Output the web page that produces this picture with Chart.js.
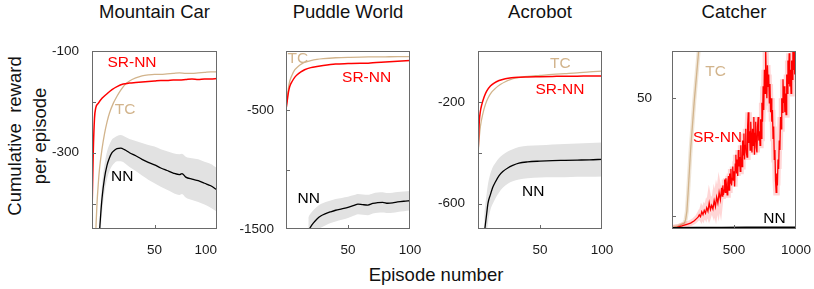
<!DOCTYPE html>
<html>
<head>
<meta charset="utf-8">
<script src="https://cdn.jsdelivr.net/npm/chart.js@4.4.1/dist/chart.umd.min.js"></script>
<style>
body{margin:0;background:#fff;width:814px;height:289px;overflow:hidden;position:relative;font-family:"Liberation Sans",Arial,Helvetica,sans-serif;color:#111}
canvas{position:absolute;top:40px}
.ttl{position:absolute;top:2px;font-size:18.5px;line-height:20px;text-align:center;white-space:nowrap}
.ylab{position:absolute;left:-73px;top:111px;width:200px;height:50px;font-size:18.5px;line-height:25px;text-align:center;white-space:nowrap;transform:rotate(-90deg)}
.xlab{position:absolute;left:336px;top:265px;width:200px;font-size:18.5px;line-height:20px;text-align:center}
</style>
</head>
<body>
<div class="ttl" style="left:92px;width:125px">Mountain Car</div>
<div class="ttl" style="left:286px;width:124px">Puddle World</div>
<div class="ttl" style="left:478px;width:124px">Acrobot</div>
<div class="ttl" style="left:672px;width:124px">Catcher</div>
<div class="ylab">Cumulative&nbsp; reward<br>per episode</div>
<div class="xlab">Episode number</div>

<canvas id="mc" width="205" height="219" style="left:32px"></canvas>
<canvas id="pw" width="204" height="219" style="left:226px"></canvas>
<canvas id="ac" width="204" height="219" style="left:418px"></canvas>
<canvas id="ca" width="202" height="219" style="left:612px"></canvas>

<script>
// Mountain Car
const mcSrX = [0,1,2,3,5,8,12,16,20,25,30,35,40,45,50,55,60,65,70,75,80,85,90,95,100];
const mcSrY = [-420,-300,-232,-212,-203,-193,-184,-176,-170,-165,-163,-162,-161,-160,-159,-158,-158,-157,-157,-156,-155,-156,-155,-155,-154];
const mcTcX = [2,3,4,5,6,8,10,12,14,17,20,23,26,30,35,40,45,50,55,60,65,70,75,80,85,90,95,100];
const mcTcY = [-520,-455,-400,-362,-332,-293,-263,-240,-222,-203,-189,-177,-167,-159,-153,-149,-147,-146,-146,-145,-144,-143,-144,-144,-143,-142,-141,-141];
const mcNnX = [6,7,8,10,12,14,16,18,20,23,26,30,35,40,45,50,55,60,65,70,72,75,80,85,90,95,100];
const mcNnY = [-455,-420,-390,-350,-325,-310,-300,-295,-292,-291,-294,-300,-306,-313,-319,-324,-330,-335,-340,-343,-341,-348,-352,-355,-360,-365,-373];
const mcNnHi = [-425,-392,-362,-323,-298,-284,-274,-270,-267,-265,-268,-273,-277,-281,-285,-288,-293,-297,-301,-303,-302,-308,-311,-313,-318,-322,-330];
const mcNnLo = [-485,-450,-420,-378,-352,-336,-326,-320,-317,-317,-320,-328,-336,-345,-353,-360,-367,-373,-379,-383,-381,-388,-393,-397,-402,-408,-416];
const mcXTicks = [0,50,100], mcXLabels = ['','50','100'];
const mcYTicks = [-400,-300,-200,-100], mcYLabels = ['','-300','','-100'];

// Puddle World
const pwSrX = [0,1,2,3,5,7,9,12,15,20,25,30,40,50,60,65,70,80,90,100];
const pwSrY = [-495,-420,-345,-300,-255,-222,-200,-176,-158,-140,-130,-122,-110,-106,-103,-104,-98,-92,-86,-80];
const pwTcX = [0,1,2,3,5,7,10,13,17,20,25,30,40,50,60,70,80,90,100];
const pwTcY = [-495,-395,-310,-255,-200,-160,-128,-106,-90,-81,-71,-65,-57,-53,-51,-50,-49,-48,-48];
const pwNnX = [18,20,22,25,28,32,36,40,45,50,55,58,62,66,70,74,78,82,86,90,95,100];
const pwNnY = [-1520,-1480,-1450,-1415,-1390,-1370,-1355,-1342,-1330,-1318,-1300,-1290,-1295,-1298,-1285,-1278,-1275,-1283,-1280,-1272,-1266,-1262];
const pwNnHi = [-1400,-1368,-1342,-1312,-1290,-1272,-1260,-1248,-1238,-1228,-1214,-1205,-1210,-1212,-1200,-1193,-1190,-1197,-1194,-1188,-1183,-1180];
const pwNnLo = [-1640,-1592,-1558,-1518,-1490,-1468,-1450,-1436,-1422,-1408,-1386,-1375,-1380,-1384,-1370,-1363,-1360,-1366,-1364,-1356,-1350,-1344];
const pwXTicks = [0,50,100], pwXLabels = ['','50','100'];
const pwYTicks = [-1500,-1000,-500], pwYLabels = ['-1500','','-500'];

// Acrobot
const acSrX = [0,1,2,3,5,7,10,13,17,22,27,33,40,50,60,70,80,90,100];
const acSrY = [-410,-280,-235,-212,-180,-158,-138,-126,-116,-109,-105,-103,-102,-101,-100,-99,-99,-98,-98];
const acTcX = [0,1,2,4,6,8,11,14,18,22,26,30,35,40,50,60,70,80,90,100];
const acTcY = [-410,-340,-295,-245,-210,-186,-162,-147,-132,-121,-113,-107,-103,-100,-96,-92,-89,-86,-82,-79];
const acNnX = [5,6,7,8,10,12,14,17,20,24,28,33,40,50,60,70,80,90,100];
const acNnY = [-720,-680,-640,-600,-565,-535,-515,-490,-474,-460,-450,-441,-436,-433,-431,-430,-429,-428,-426];
const acNnHi = [-640,-600,-560,-525,-482,-456,-440,-421,-408,-395,-386,-378,-373,-371,-368,-366,-364,-362,-360];
const acNnLo = [-800,-760,-720,-675,-625,-600,-580,-556,-538,-522,-512,-505,-500,-497,-496,-496,-495,-495,-494];
const acXTicks = [0,50,100], acXLabels = ['','50','100'];
const acYTicks = [-600,-400,-200], acYLabels = ['-600','','-200'];

// Catcher
const caSrX = [0,40,80,120,150,180,200,210,220,230,240,250,260,270,280,290,300,310,320,330,340,350,360,370,380,390,400,
  405,410,415,420,425,430,435,440,445,450,455,460,465,470,475,480,485,490,495,500,
  505,510,515,520,525,530,535,540,545,550,555,560,565,570,575,580,585,590,595,600,
  605,610,615,620,625,630,635,640,645,650,655,660,665,670,675,680,685,690,695,700,
  705,710,715,720,725,730,735,740,745,750,755,760,765,770,775,780,785,790,795,800,
  805,810,815,820,825,830,835,840,845,850,855,860,865,870,875,880,885,890,895,900,
  905,910,915,920,925,930,935,940,945,950,955,960,965,970,975,980,985,990,995,1000];
const caSrY = [-5,-4.8,-4.2,-3.5,-3,-2,-1,-0.5,0.5,-0.3,1.8,0.6,2.4,1.2,3.5,2,5.6,2.8,4.5,3,6.5,4,8,5.5,10,7,12,
  8.5,13,9,11,15.5,10,16,12,9,14,17,11,18,14,20,13,16,21,15,19,
  12.5,22,26,18,24,17,28,21,25,19,30,23,21,32,26,35,24,30,37,27,
  25,38,44,31,36,28,40,33,27,37,30,42,26,35,40,29,27,38,42,32,
  36,30,41,33,48,40,55,45,62,52,72,58,50,64,55,60,48,56,44,50,
  40,45,33,38,24,28,15,10,18,13,24,20,32,28,42,37,50,44,58,48,
  55,44,52,43,60,52,66,56,69,55,62,52,66,58,73,62,70,60,72,66];
const caTcX = [0,50,100,110,120,130,140,150,160,170,180,190,200,210,220];
const caTcY = [-4.8,-4.3,-3,-1.5,2,10,19,28,35,42,49,55,61,67,73];
const caNnX = [0,200,400,600,800,1000];
const caNnY = [-5.0,-4.9,-4.9,-4.8,-4.8,-4.8];
const caXTicks = [0,500,1000], caXLabels = ['','500','1000'];
const caYTicks = [0,50], caYLabels = ['','50'];

const FONT = '"Liberation Sans", Arial, Helvetica, sans-serif';
const RED = '#ff0000', TAN = '#d2b48c', BAND = '#e2e2e2';

function pts(xs, ys){
  return xs.map((x,i) => ({x:x, y:ys[i]}));
}

// frame, inward ticks and curve labels
const framePlugin = {
  id:'frame',
  afterDraw(chart, args, opts){
    const ctx = chart.ctx, a = chart.chartArea;
    const xs = chart.scales.x, ys = chart.scales.y;
    ctx.save();
    ctx.strokeStyle = '#6a6a6a';
    ctx.lineWidth = 1;
    ctx.strokeRect(a.left+0.5, a.top+0.5, a.right-a.left-1, a.bottom-a.top-1);
    ctx.beginPath();
    xs.ticks.forEach(t => {
      const p = Math.round(xs.getPixelForValue(t.value))+0.5;
      if(p > a.left+2 && p < a.right-2){ ctx.moveTo(p, a.bottom); ctx.lineTo(p, a.bottom-4); }
    });
    ys.ticks.forEach(t => {
      const p = Math.round(ys.getPixelForValue(t.value))+0.5;
      if(p > a.top+2 && p < a.bottom-2){ ctx.moveTo(a.left, p); ctx.lineTo(a.left+4, p); }
    });
    ctx.stroke();
    ctx.font = '15.5px ' + FONT;
    ctx.textAlign = 'center';
    ctx.textBaseline = 'middle';
    (opts.notes || []).forEach(n => {
      ctx.fillStyle = n.color;
      ctx.fillText(n.text, xs.getPixelForValue(n.x), ys.getPixelForValue(n.y));
    });
    ctx.restore();
  }
};

function line(data, color, width, smooth){
  return {data:data, borderColor:color, borderWidth:width, pointRadius:0, fill:false,
    cubicInterpolationMode: smooth ? 'monotone' : 'default', tension:0};
}

function band(hi, lo){
  return [
    {data:hi, borderWidth:0, pointRadius:0, backgroundColor:BAND, fill:'+1', cubicInterpolationMode:'monotone'},
    {data:lo, borderWidth:0, pointRadius:0, fill:false, cubicInterpolationMode:'monotone'}
  ];
}

function makeChart(id, p){
  return new Chart(document.getElementById(id), {
    type:'line',
    data:{datasets:p.datasets},
    options:{
      responsive:false,
      animation:false,
      layout:{padding:{top:11, right:p.right, left:0, bottom:0}},
      plugins:{legend:{display:false}, tooltip:{enabled:false}, frame:{notes:p.notes}},
      scales:{
        x:{type:'linear', min:p.xMin, max:p.xMax,
          grid:{display:false}, border:{display:false},
          afterBuildTicks:s => { s.ticks = p.xTicks.map(v => ({value:v})); },
          afterFit:s => { s.height = 30; s.paddingLeft = 0; s.paddingRight = 0; },
          ticks:{autoSkip:false, maxRotation:0, padding:5, align:p.xAlign || 'center', color:'#1a1a1a',
            font:{family:FONT, size:13.5}, callback:(v,i) => p.xLabels[i]}},
        y:{type:'linear', min:p.yMin, max:p.yMax,
          grid:{display:false}, border:{display:false},
          afterBuildTicks:s => { s.ticks = p.yTicks.map(v => ({value:v})); },
          afterFit:s => { s.width = 60; s.paddingTop = 0; s.paddingBottom = 0; },
          ticks:{autoSkip:false, padding:p.yPad, color:'#1a1a1a',
            font:{family:FONT, size:13.5}, callback:(v,i) => p.yLabels[i]}}
      }
    },
    plugins:[framePlugin]
  });
}

makeChart('mc', {
  xMin:0, xMax:100, yMin:-450, yMax:-100, right:20, yPad:5, xAlign:'inner',
  xTicks:mcXTicks, xLabels:mcXLabels, yTicks:mcYTicks, yLabels:mcYLabels,
  datasets:[
    line(pts(mcSrX, mcSrY), RED, 1.5, true),
    line(pts(mcTcX, mcTcY), TAN, 1.3, true),
    line(pts(mcNnX, mcNnY), '#000', 1.3, true)
  ].concat(band(pts(mcNnX, mcNnHi), pts(mcNnX, mcNnLo))),
  notes:[
    {text:'SR-NN', x:32, y:-123, color:RED},
    {text:'TC', x:26.4, y:-215, color:TAN},
    {text:'NN', x:24.2, y:-348, color:'#000'}
  ]
});

makeChart('pw', {
  xMin:0, xMax:100, yMin:-1500, yMax:0, right:20, yPad:4,
  xTicks:pwXTicks, xLabels:pwXLabels, yTicks:pwYTicks, yLabels:pwYLabels,
  datasets:[
    line(pts(pwSrX, pwSrY), RED, 1.5, true),
    line(pts(pwTcX, pwTcY), TAN, 1.3, true),
    line(pts(pwNnX, pwNnY), '#000', 1.3, true)
  ].concat(band(pts(pwNnX, pwNnHi), pts(pwNnX, pwNnLo))),
  notes:[
    {text:'TC', x:9.5, y:-69, color:TAN},
    {text:'SR-NN', x:65, y:-224, color:RED},
    {text:'NN', x:18.3, y:-1248, color:'#000'}
  ]
});

makeChart('ac', {
  xMin:0, xMax:100, yMin:-700, yMax:0, right:20, yPad:5,
  xTicks:acXTicks, xLabels:acXLabels, yTicks:acYTicks, yLabels:acYLabels,
  datasets:[
    line(pts(acSrX, acSrY), RED, 1.5, true),
    line(pts(acTcX, acTcY), TAN, 1.3, true),
    line(pts(acNnX, acNnY), '#000', 1.3, true)
  ].concat(band(pts(acNnX, acNnHi), pts(acNnX, acNnLo))),
  notes:[
    {text:'TC', x:66.4, y:-50, color:TAN},
    {text:'SR-NN', x:66.1, y:-151, color:RED},
    {text:'NN', x:44.6, y:-555, color:'#000'}
  ]
});

makeChart('ca', {
  xMin:0, xMax:1000, yMin:-5.5, yMax:70, right:18, yPad:12,
  xTicks:caXTicks, xLabels:caXLabels, yTicks:caYTicks, yLabels:caYLabels,
  datasets:[
    line(pts(caNnX, caNnY), '#000', 1.6, false),
    line(pts(caSrX, caSrY), RED, 1.3, false),
    line(pts(caSrX, caSrY), 'rgba(255,0,0,0.16)', 6, false),
    line(pts(caTcX, caTcY), TAN, 1.3, false),
    line(pts(caTcX, caTcY), 'rgba(210,180,140,0.35)', 4, false)
  ],
  notes:[
    {text:'TC', x:351, y:61.4, color:TAN},
    {text:'SR-NN', x:367, y:33.3, color:RED},
    {text:'NN', x:826, y:-1.3, color:'#000'}
  ]
});
</script>
</body>
</html>
